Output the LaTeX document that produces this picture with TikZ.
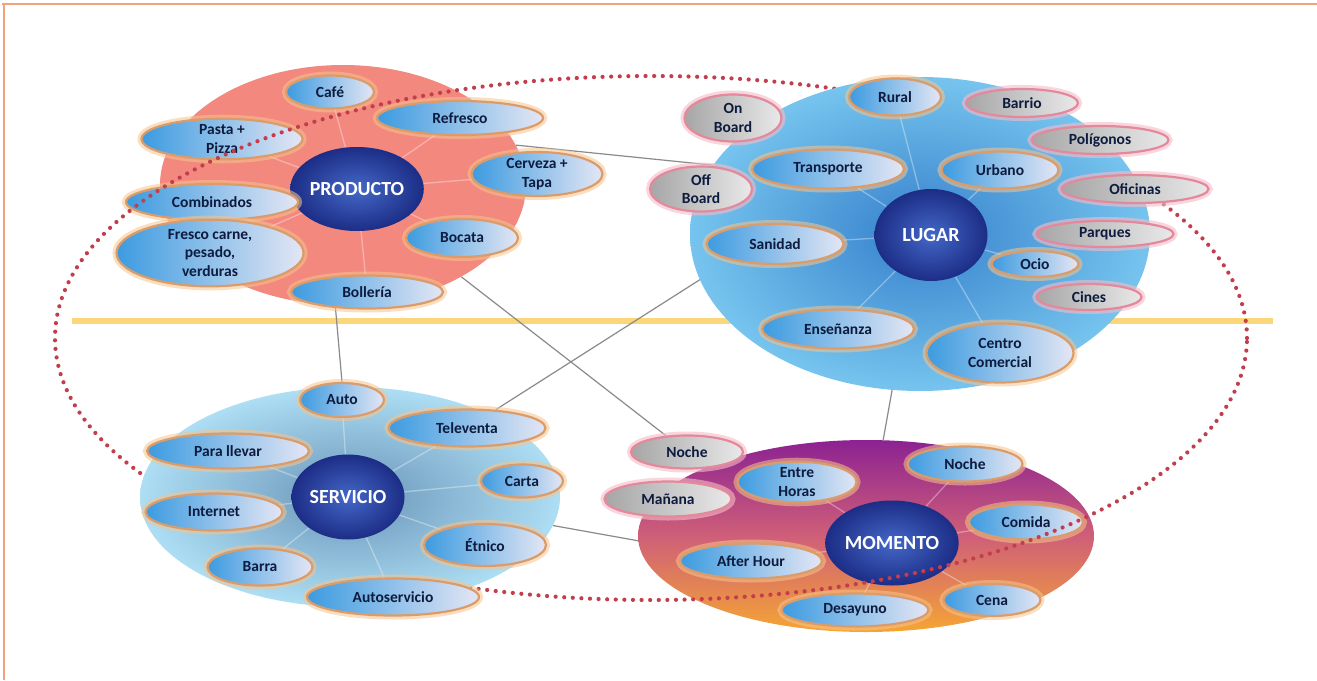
\documentclass[tikz,border=0pt]{standalone}
\usepackage{fontspec}
\setmainfont{Carlito}
\usetikzlibrary{shapes.geometric}
\pgfdeclarelayer{back}
\pgfdeclarelayer{pbgl}\pgfdeclarelayer{pfg}
\pgfdeclarelayer{mbgl}\pgfdeclarelayer{mfg}
\pgfdeclarelayer{dotl}
\pgfdeclarelayer{lbgl}\pgfdeclarelayer{lfg}
\pgfdeclarelayer{sbgl}\pgfdeclarelayer{sfg}
\pgfsetlayers{back,pbgl,pfg,mbgl,mfg,dotl,lbgl,lfg,sbgl,sfg,main}
\definecolor{bubL}{HTML}{3C9BE0}
\definecolor{bubR}{HTML}{E4E6F4}
\definecolor{ring}{HTML}{DB9C6C}
\definecolor{glow}{HTML}{F8C48A}
\definecolor{gL}{HTML}{A6A6A6}
\definecolor{gR}{HTML}{E9E9E9}
\definecolor{pring}{HTML}{E3899B}
\definecolor{pglow}{HTML}{F6BCC7}
\definecolor{txt}{HTML}{0D1B3E}
\definecolor{hubIn}{HTML}{4468C8}
\definecolor{hubOut}{HTML}{1C2D86}
\definecolor{salmon}{HTML}{F3887F}
\definecolor{lugIn}{HTML}{3580CC}
\definecolor{lugOut}{HTML}{76C4EE}
\definecolor{serIn}{HTML}{6A94B8}
\definecolor{serOut}{HTML}{ADDEF4}
\definecolor{momTop}{HTML}{8C2292}
\definecolor{momMid}{HTML}{CF5F78}
\definecolor{momBot}{HTML}{F5A534}
\definecolor{yband}{HTML}{FCD67A}
\definecolor{dotred}{HTML}{C23E4C}
\definecolor{conn}{HTML}{8A8A8A}
\definecolor{frameor}{HTML}{F4A27E}
\begin{document}
\begin{tikzpicture}[x=1pt,y=-1pt,
  bubbase/.style={ellipse, inner sep=0pt, align=center, text=txt,
    font=\bfseries\fontsize{15.5}{18.5}\selectfont, line width=2.2pt},
  bub/.style={bubbase, left color=bubL, right color=bubR, draw=ring,
    preaction={draw=glow, line width=8pt, opacity=0.55}},
  gbub/.style={bubbase, left color=gL, right color=gR, draw=pring,
    preaction={draw=pglow, line width=8pt, opacity=0.6}},
  hub/.style={ellipse, inner sep=0pt, text=white, shading=radial,
    inner color=hubIn, outer color=hubOut,
    font=\bfseries\fontsize{20}{24}\selectfont},
  bgshape/.style={ellipse, inner sep=0pt, draw=none},
  spoke/.style={line width=1.3pt, opacity=0.35},
  link/.style={draw=conn, line width=1.2pt},
  dotring/.style={draw=dotred, line width=4.2pt, line cap=round, dash pattern=on 0pt off 8.6pt},
  frameline/.style={draw=frameor, line width=1.5pt}]
\useasboundingbox (0,0) rectangle (1317,680);
\begin{pgfonlayer}{back}
  \fill[white] (0,0) rectangle (1317,680);
  \coordinate (yl) at (72,321);
  \coordinate (yr) at (1273,321);
  \draw[yband, line width=5.5pt] (yl) -- (yr);
\end{pgfonlayer}
\draw[frameline] (2,4) -- (1317,4);
\draw[frameline] (4,4) -- (4,680);

% ---------------- PRODUCTO
\begin{pgfonlayer}{pbgl}
  \node[bgshape, fill=salmon, minimum width=366pt, minimum height=240pt] (pbg) at (343,185) {};
\end{pgfonlayer}
\begin{pgfonlayer}{pfg}
  \node[hub, minimum width=110pt, minimum height=84pt] (prod) at (357,189) {PRODUCTO};
  \node[bub, minimum width=88pt, minimum height=33pt] (cafe) at (330,92) {Café};
  \node[bub, minimum width=166pt, minimum height=34pt] (refr) at (460,118) {Refresco};
  \node[bub, minimum width=161pt, minimum height=35pt] (pasta) at (222,139) {Pasta +\\Pizza};
  \node[bub, minimum width=131pt, minimum height=40pt] (cerv) at (537,174) {Cerveza +\\Tapa};
  \node[bub, minimum width=172pt, minimum height=36pt] (combi) at (212,202) {Combinados};
  \node[bub, minimum width=187pt, minimum height=47pt] (fresco) at (210,253) {Fresco carne,\\pesado,\\verduras};
  \node[bub, minimum width=112pt, minimum height=38pt] (bocata) at (462,238) {Bocata};
  \node[bub, minimum width=152pt, minimum height=33pt] (boll) at (367,292) {Bollería};
\end{pgfonlayer}
\begin{pgfonlayer}{pbgl}
  \foreach \s in {cafe,refr,pasta,cerv,combi,fresco,bocata,boll}
    \draw[spoke, draw=white] (prod) -- (\s);
\end{pgfonlayer}

% ---------------- MOMENTO
\begin{pgfonlayer}{mbgl}
  \node[bgshape, top color=momTop, bottom color=momBot, middle color=momMid,
        minimum width=456pt, minimum height=192pt] (mbg) at (866,536) {};
\end{pgfonlayer}
\begin{pgfonlayer}{mfg}
  \node[hub, minimum width=115pt, minimum height=85pt] (mom) at (892,543) {MOMENTO};
  \node[gbub, minimum width=112pt, minimum height=33pt] (noche1) at (687,452) {Noche};
  \node[gbub, minimum width=127pt, minimum height=35pt] (manana) at (668,499) {Mañana};
  \node[bub, minimum width=119pt, minimum height=38pt] (entre) at (797,482) {Entre\\Horas};
  \node[bub, minimum width=115pt, minimum height=35pt] (noche2) at (965,464) {Noche};
  \node[bub, minimum width=114pt, minimum height=35pt] (comida) at (1026,522) {Comida};
  \node[bub, minimum width=142pt, minimum height=35pt] (afterh) at (751,561) {After Hour};
  \node[bub, minimum width=97pt, minimum height=32pt] (cena) at (992,600) {Cena};
  \node[bub, minimum width=147pt, minimum height=33pt] (desay) at (855,610) {Desayuno};
\end{pgfonlayer}
\begin{pgfonlayer}{mbgl}
  \foreach \s in {entre,noche2,comida,afterh,cena,desay}
    \draw[spoke, draw=white] (mom) -- (\s);
\end{pgfonlayer}

% ---------------- dotted ring
\begin{pgfonlayer}{dotl}
  \draw[dotring] (651,338) ellipse [x radius=596pt, y radius=262pt];
\end{pgfonlayer}

% ---------------- LUGAR
\begin{pgfonlayer}{lbgl}
  \node[bgshape, shading=radial, inner color=lugIn, outer color=lugOut,
        minimum width=460pt, minimum height=314pt] (lbg) at (920,234) {};
\end{pgfonlayer}
\begin{pgfonlayer}{lfg}
  \node[hub, minimum width=113pt, minimum height=92pt] (lugar) at (931,235) {LUGAR};
  \node[bub, minimum width=92pt, minimum height=37pt] (rural) at (895,97) {Rural};
  \node[gbub, minimum width=112pt, minimum height=28pt] (barrio) at (1022,103) {Barrio};
  \node[gbub, minimum width=97pt, minimum height=47pt] (onb) at (733,118) {On\\Board};
  \node[gbub, minimum width=137pt, minimum height=28pt] (polig) at (1100,140) {Polígonos};
  \node[bub, minimum width=152pt, minimum height=39pt] (transp) at (828,169) {Transporte};
  \node[bub, minimum width=117pt, minimum height=37pt] (urbano) at (1000,170) {Urbano};
  \node[gbub, minimum width=102pt, minimum height=45pt] (offb) at (701,189) {Off\\Board};
  \node[gbub, minimum width=147pt, minimum height=28pt] (ofic) at (1135,189) {Oficinas};
  \node[bub, minimum width=137pt, minimum height=40pt] (sanid) at (775,244) {Sanidad};
  \node[gbub, minimum width=137pt, minimum height=26pt] (parq) at (1105,234) {Parques};
  \node[bub, minimum width=87pt, minimum height=26pt] (ocio) at (1035,264) {Ocio};
  \node[gbub, minimum width=105pt, minimum height=26pt] (cines) at (1089,297) {Cines};
  \node[bub, minimum width=152pt, minimum height=39pt] (ense) at (838,329) {Enseñanza};
  \node[bub, minimum width=147pt, minimum height=59pt] (ccom) at (1000,353) {Centro\\Comercial};
\end{pgfonlayer}
\begin{pgfonlayer}{lbgl}
  \foreach \s in {rural,transp,urbano,sanid,ocio,ense,ccom}
    \draw[spoke, draw=white] (lugar) -- (\s);
\end{pgfonlayer}

% ---------------- SERVICIO
\begin{pgfonlayer}{sbgl}
  \node[bgshape, shading=radial, inner color=serIn, outer color=serOut,
        minimum width=420pt, minimum height=220pt] (sbg) at (350,497) {};
\end{pgfonlayer}
\begin{pgfonlayer}{sfg}
  \node[hub, minimum width=113pt, minimum height=85pt] (serv) at (348,497) {SERVICIO};
  \node[bub, minimum width=84pt, minimum height=34pt] (auto) at (342,400) {Auto};
  \node[bub, minimum width=157pt, minimum height=37pt] (telev) at (467,428) {Televenta};
  \node[bub, minimum width=162pt, minimum height=35pt] (para) at (228,451) {Para llevar};
  \node[bub, minimum width=82pt, minimum height=33pt] (carta) at (522,481) {Carta};
  \node[bub, minimum width=137pt, minimum height=37pt] (inter) at (214,512) {Internet};
  \node[bub, minimum width=122pt, minimum height=42pt] (etnico) at (485,545) {Étnico};
  \node[bub, minimum width=105pt, minimum height=37pt] (barra) at (260,567) {Barra};
  \node[bub, minimum width=172pt, minimum height=37pt] (autos) at (393,597) {Autoservicio};
\end{pgfonlayer}
\begin{pgfonlayer}{sbgl}
  \foreach \s in {auto,telev,para,carta,inter,etnico,barra,autos}
    \draw[spoke, draw=white] (serv) -- (\s);
\end{pgfonlayer}

% ---------------- links between groups
\begin{pgfonlayer}{back}
  \draw[link] (pbg.13) -- (transp.west);
  \draw[link] (boll.207) -- (auto.north);
  \draw[link] (pbg) -- (noche1);
  \draw[link] (telev) -- (sanid.200);
  \draw[link] (lbg) -- (mbg);
  \draw[link] (sbg.-8) -- (afterh);
\end{pgfonlayer}
\end{tikzpicture}
\end{document}
